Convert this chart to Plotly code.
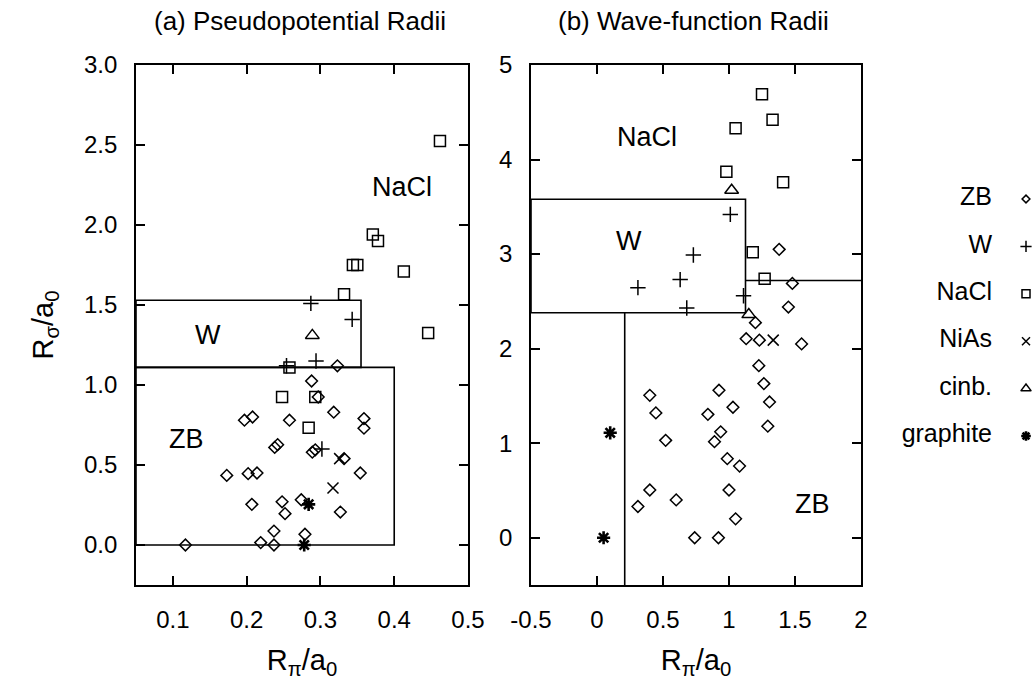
import plotly.graph_objects as go

FONT = "Liberation Sans, Arial, Helvetica, sans-serif"

# ---------------- data: panel (a) pseudopotential radii ----------------
a_zb_x = [0.323, 0.288, 0.297, 0.318, 0.359, 0.359, 0.197, 0.208, 0.258, 0.238, 0.242, 0.289, 0.293, 0.332,
          0.354, 0.173, 0.202, 0.214, 0.207, 0.248, 0.252, 0.274, 0.327, 0.237, 0.279, 0.219, 0.237, 0.117]
a_zb_y = [1.12, 1.025, 0.925, 0.83, 0.79, 0.73, 0.78, 0.80, 0.78, 0.61, 0.627, 0.58, 0.595, 0.54,
          0.45, 0.435, 0.446, 0.45, 0.254, 0.27, 0.196, 0.283, 0.206, 0.087, 0.067, 0.015, 0.0, 0.0]
a_w_x = [0.287, 0.343, 0.294, 0.254, 0.302]
a_w_y = [1.51, 1.41, 1.15, 1.12, 0.60]
a_nacl_x = [0.462, 0.371, 0.378, 0.344, 0.350, 0.413, 0.332, 0.446, 0.258, 0.248, 0.293, 0.284]
a_nacl_y = [2.525, 1.94, 1.90, 1.75, 1.75, 1.71, 1.567, 1.325, 1.11, 0.925, 0.925, 0.733]
a_nias_x = [0.326, 0.317]
a_nias_y = [0.54, 0.356]
a_cinb_x = [0.289]
a_cinb_y = [1.31]
a_gr_x = [0.284, 0.278]
a_gr_y = [0.254, 0.0]

# ---------------- data: panel (b) wave-function radii ----------------
b_zb_x = [1.38, 1.48, 1.45, 1.20, 1.13, 1.23, 1.55, 1.226, 1.264, 1.307, 1.294, 0.924, 1.03, 0.84,
          0.937, 0.89, 0.987, 1.08, 1.0, 1.05, 0.92, 0.74, 0.40, 0.446, 0.52, 0.40, 0.31, 0.60]
b_zb_y = [3.05, 2.69, 2.44, 2.275, 2.105, 2.09, 2.05, 1.82, 1.63, 1.436, 1.18, 1.56, 1.38, 1.305,
          1.12, 1.016, 0.836, 0.758, 0.505, 0.20, 0.0, 0.0, 1.506, 1.32, 1.03, 0.505, 0.33, 0.40]
b_w_x = [1.01, 0.73, 0.63, 0.31, 0.68, 1.11]
b_w_y = [3.42, 2.99, 2.73, 2.645, 2.43, 2.56]
b_nacl_x = [1.25, 1.33, 1.05, 0.98, 1.41, 1.18, 1.27]
b_nacl_y = [4.69, 4.42, 4.33, 3.87, 3.76, 3.02, 2.74]
b_nias_x = [1.335]
b_nias_y = [2.09]
b_cinb_x = [1.02, 1.15]
b_cinb_y = [3.675, 2.36]
b_gr_x = [0.10, 0.05]
b_gr_y = [1.11, 0.0]

# structure names / legend
struct_names = ["ZB", "W", "NaCl", "NiAs", "cinb.", "graphite"]

# region boundaries
a_zb_box = dict(x1=0.40, y0=0.0, y1=1.11)
a_w_box = dict(x1=0.355, y0=1.11, y1=1.53)
b_w_box = dict(x1=1.125, y0=2.38, y1=3.58)
b_zb_left = 0.21
b_zb_step = 2.72

# ticks / ranges
a_xrange = [0.05, 0.5]
a_yrange = [-0.25, 3.0]
b_xrange = [-0.5, 2.0]
b_yrange = [-0.5, 5.0]
a_xticks = [0.1, 0.2, 0.3, 0.4, 0.5]
a_xticklabels = ["0.1", "0.2", "0.3", "0.4", "0.5"]
a_yticks = [0.0, 0.5, 1.0, 1.5, 2.0, 2.5, 3.0]
a_yticklabels = ["0.0", "0.5", "1.0", "1.5", "2.0", "2.5", "3.0"]
b_xticks = [-0.5, 0, 0.5, 1, 1.5, 2]
b_xticklabels = ["-0.5", "0", "0.5", "1", "1.5", "2"]
b_yticks = [0, 1, 2, 3, 4, 5]
b_yticklabels = ["0", "1", "2", "3", "4", "5"]

# ---------------- styles ----------------
styles = {
    "ZB": dict(symbol="diamond-open", size=9, line=dict(width=1.5, color="black")),
    "W": dict(symbol="cross-thin-open", size=11, line=dict(width=1.5, color="black")),
    "NaCl": dict(symbol="square-open", size=11, line=dict(width=1.5, color="black")),
    "NiAs": dict(symbol="x-thin-open", size=11, line=dict(width=1.5, color="black")),
    "cinb.": dict(symbol="triangle-up-open", size=12, line=dict(width=1.5, color="black")),
    "graphite": dict(symbol="asterisk-open", size=11, line=dict(width=2.6, color="black")),
}

fig = go.Figure()

panel_a = [(a_zb_x, a_zb_y), (a_w_x, a_w_y), (a_nacl_x, a_nacl_y), (a_nias_x, a_nias_y),
           (a_cinb_x, a_cinb_y), (a_gr_x, a_gr_y)]
panel_b = [(b_zb_x, b_zb_y), (b_w_x, b_w_y), (b_nacl_x, b_nacl_y), (b_nias_x, b_nias_y),
           (b_cinb_x, b_cinb_y), (b_gr_x, b_gr_y)]

for name, (xs, ys) in zip(struct_names, panel_a):
    fig.add_trace(go.Scatter(x=xs, y=ys, mode="markers", marker=dict(color="black", **styles[name]),
                             xaxis="x", yaxis="y", showlegend=False, cliponaxis=False))
for name, (xs, ys) in zip(struct_names, panel_b):
    fig.add_trace(go.Scatter(x=xs, y=ys, mode="markers", marker=dict(color="black", **styles[name]),
                             xaxis="x2", yaxis="y2", showlegend=False, cliponaxis=False))

# legend drawn on a hidden axis: text left, symbol right
leg_y = [-i for i in range(len(struct_names))]
fig.add_trace(go.Scatter(x=[0] * len(struct_names), y=leg_y, mode="text", text=struct_names,
                         textposition="middle left", textfont=dict(family=FONT, size=25, color="black"),
                         xaxis="x3", yaxis="y3", showlegend=False, cliponaxis=False))
for i, name in enumerate(struct_names):
    st = dict(styles[name])
    st["size"] = st["size"] - 3
    fig.add_trace(go.Scatter(x=[1], y=[leg_y[i]], mode="markers", marker=dict(color="black", **st),
                             xaxis="x3", yaxis="y3", showlegend=False, cliponaxis=False))

line = dict(color="black", width=1.6)
shapes = [
    dict(type="rect", xref="x", yref="y", x0=a_xrange[0], x1=a_zb_box["x1"], y0=a_zb_box["y0"], y1=a_zb_box["y1"], line=line),
    dict(type="rect", xref="x", yref="y", x0=a_xrange[0], x1=a_w_box["x1"], y0=a_w_box["y0"], y1=a_w_box["y1"], line=line),
    dict(type="rect", xref="x2", yref="y2", x0=b_xrange[0], x1=b_w_box["x1"], y0=b_w_box["y0"], y1=b_w_box["y1"], line=line),
    dict(type="line", xref="x2", yref="y2", x0=b_zb_left, x1=b_zb_left, y0=b_yrange[0], y1=b_w_box["y0"], line=line),
    dict(type="line", xref="x2", yref="y2", x0=b_w_box["x1"], x1=b_xrange[1], y0=b_zb_step, y1=b_zb_step, line=line),
]

W, H = 1034, 685

def px_to_paper_x(p):
    return p / W

def px_to_paper_y(p):
    return 1 - p / H

annotations = [
    dict(text="(a) Pseudopotential Radii", x=px_to_paper_x(300), y=px_to_paper_y(21)),
    dict(text="(b) Wave-function Radii", x=px_to_paper_x(693), y=px_to_paper_y(21)),
]
for an in annotations:
    an.update(xref="paper", yref="paper", showarrow=False, xanchor="center", yanchor="middle",
              font=dict(family=FONT, size=26, color="black"))

region_labels = [
    ("x", "y", 0.41, 2.24, "NaCl"), ("x", "y", 0.147, 1.31, "W"), ("x", "y", 0.118, 0.66, "ZB"),
    ("x2", "y2", 0.378, 4.24, "NaCl"), ("x2", "y2", 0.24, 3.14, "W"), ("x2", "y2", 1.63, 0.36, "ZB"),
]
for xr, yr, xx, yy, t in region_labels:
    annotations.append(dict(text=t, x=xx, y=yy, xref=xr, yref=yr, showarrow=False,
                            font=dict(family=FONT, size=27, color="black")))

ydom = [px_to_paper_y(585), px_to_paper_y(65)]

axis_common = dict(showline=True, linecolor="black", linewidth=1.6, mirror="ticks", ticks="inside",
                   ticklen=9, tickwidth=1.6, tickcolor="black", showgrid=False, zeroline=False,
                   automargin=False, ticklabelstandoff=12,
                   tickfont=dict(family=FONT, size=24, color="black"))

xtitle = dict(text="R<sub>π</sub>/a<sub>0</sub>", font=dict(family=FONT, size=29, color="black"), standoff=18)

fig.update_layout(
    width=W, height=H, margin=dict(l=0, r=0, t=0, b=0),
    paper_bgcolor="white", plot_bgcolor="white",
    showlegend=False,
    shapes=shapes, annotations=annotations,
    xaxis=dict(domain=[px_to_paper_x(136), px_to_paper_x(468)], range=a_xrange, anchor="y",
               tickvals=a_xticks, ticktext=a_xticklabels, title=xtitle, **axis_common),
    yaxis=dict(domain=ydom, range=a_yrange, anchor="x", tickvals=a_yticks, ticktext=a_yticklabels,
               title=dict(text="R<sub>σ</sub>/a<sub>0</sub>", font=dict(family=FONT, size=29, color="black"), standoff=22),
               **axis_common),
    xaxis2=dict(domain=[px_to_paper_x(531), px_to_paper_x(861)], range=b_xrange, anchor="y2",
                tickvals=b_xticks, ticktext=b_xticklabels, title=xtitle, **axis_common),
    yaxis2=dict(domain=ydom, range=b_yrange, anchor="x2", tickvals=b_yticks, ticktext=b_yticklabels,
                **axis_common),
    xaxis3=dict(domain=[px_to_paper_x(992), px_to_paper_x(1026)], range=[0, 1], anchor="y3", visible=False),
    yaxis3=dict(domain=[px_to_paper_y(436), px_to_paper_y(199)], range=[-5, 0], anchor="x3", visible=False),
)

fig.write_html("out.html")
